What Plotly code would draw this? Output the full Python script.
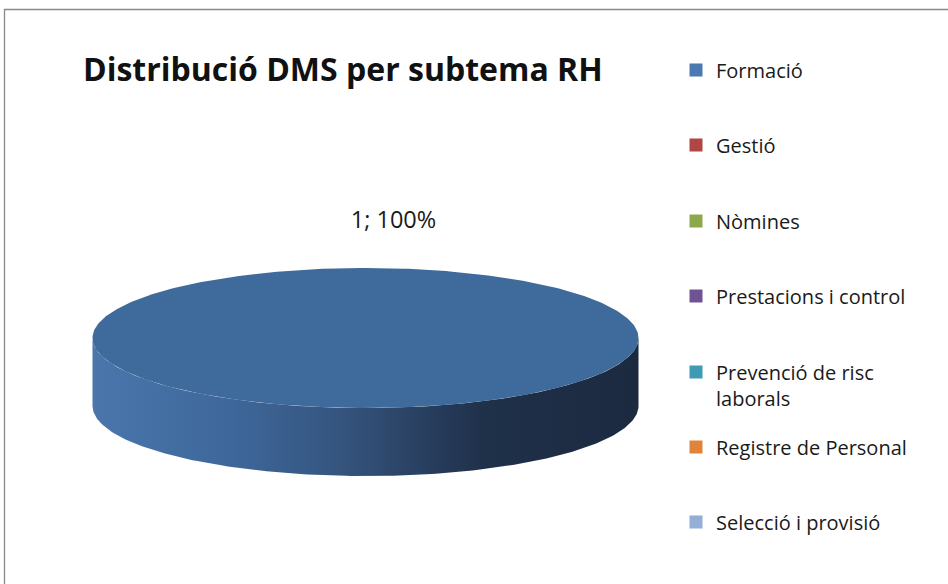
import numpy as np
import plotly.graph_objects as go

# ---- data ----
categories = ["Formació", "Gestió", "Nòmines", "Prestacions i control",
              "Prevenció de risc laborals", "Registre de Personal", "Selecció i provisió"]
values = [1, 0, 0, 0, 0, 0, 0]
title_text = "Distribució DMS per subtema RH"

# ---- styles ----
colors = ["#4a78b0", "#b14745", "#8ba84c", "#6f5394", "#3f9bb3", "#e0843b", "#94aed5"]
top_colors = ["#3f6a9c", "#9c3e3c", "#7a9442", "#614982", "#37889d", "#c57433", "#8299bb"]
side_scale = [[0, "#4a76ac"], [0.25, "#3e689b"], [0.45, "#35557f"], [0.72, "#1f3049"], [1, "#1c2a40"]]
FONT = "Open Sans, sans-serif"
LEG_SIZE = 20

W, H = 948, 584
cx, cy, a, b, depth = 365.5, 338.0, 273.0, 70.0, 68.0

fig = go.Figure()

total = float(sum(values))
start = 0.0
for i, v in enumerate(values):
    if v <= 0:
        continue
    frac = v / total
    t0 = start
    t1 = start + frac * 2 * np.pi
    start = t1
    # front (visible) side portion: angles in [pi/2, 3pi/2]
    s0, s1 = max(t0, np.pi / 2), min(t1, 3 * np.pi / 2)
    if s1 > s0:
        th = np.linspace(s0, s1, 200)
        xt = cx + a * np.sin(th)
        yt = cy - b * np.cos(th)
        xs = np.concatenate([xt, xt[::-1]])
        ys = np.concatenate([yt, (yt + depth)[::-1]])
        fig.add_trace(go.Scatter(
            x=xs, y=ys, mode="lines", fill="toself", line=dict(width=0),
            fillgradient=dict(type="horizontal", colorscale=side_scale),
            hoverinfo="skip", showlegend=False))
    th = np.linspace(t0, t1, 400)
    xt = cx + a * np.sin(th)
    yt = cy - b * np.cos(th)
    if frac < 1:
        xt = np.concatenate([[cx], xt, [cx]])
        yt = np.concatenate([[cy], yt, [cy]])
    fig.add_trace(go.Scatter(
        x=xt, y=yt, mode="lines", fill="toself", line=dict(width=0),
        fillcolor=top_colors[i], hoverinfo="skip", showlegend=False))
    # data label
    fig.add_trace(go.Scatter(
        x=[cx + 28], y=[222], mode="text",
        text=[f"{v}; {round(frac * 100)}%"],
        textfont=dict(family=FONT, size=23.5, color="#1a1a1a"),
        hoverinfo="skip", showlegend=False))

# legend entries, one legend each so spacing matches
legend_rows = [71, 146, 222, 297, 373, 448, 523]
offset = 20.6
layout_legends = {}
for i, (name, col) in enumerate(zip(categories, colors)):
    key = "legend" if i == 0 else f"legend{i + 1}"
    disp = name.replace("risc laborals", "risc<br>laborals")
    fig.add_trace(go.Scatter(
        x=[None], y=[None], mode="markers", name=disp,
        marker=dict(symbol="square", size=13, color=col, line=dict(width=0)),
        legend=key, showlegend=True))
    layout_legends[key] = dict(
        x=676 / W, xanchor="left", y=1 - (legend_rows[i] - offset) / H, yanchor="top",
        font=dict(family=FONT, size=LEG_SIZE, color="#1a1a1a"),
        bgcolor="rgba(0,0,0,0)", borderwidth=0, valign="top", itemwidth=30,
        tracegroupgap=0)

fig.update_layout(
    width=W, height=H, margin=dict(l=0, r=0, t=0, b=0),
    paper_bgcolor="white", plot_bgcolor="white",
    xaxis=dict(range=[0, W], visible=False, fixedrange=True),
    yaxis=dict(range=[H, 0], visible=False, fixedrange=True),
    showlegend=True,
    shapes=[dict(type="rect", xref="x", yref="y", x0=4.5, y0=9.5, x1=W + 20, y1=H + 20,
                 line=dict(color="#898989", width=1.3), fillcolor="rgba(0,0,0,0)", layer="above")],
    annotations=[dict(text=f"<b>{title_text}</b>", x=343 / W, y=1 - 69 / H,
                      xref="paper", yref="paper", xanchor="center", yanchor="middle",
                      showarrow=False, font=dict(family=FONT, size=32, color="#111111"))],
    **layout_legends,
)

fig.write_html("out.html", config={"displayModeBar": False},
               post_script="document.body.style.margin='0';document.body.style.overflow='hidden';")
